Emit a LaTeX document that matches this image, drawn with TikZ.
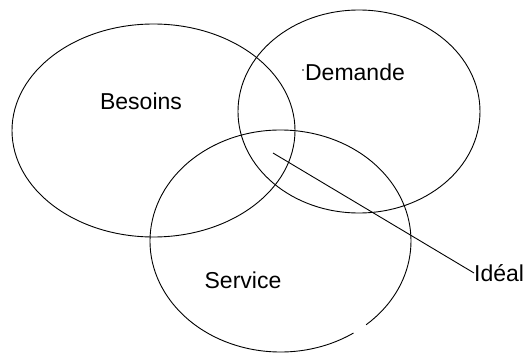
\documentclass[tikz,border=0pt]{standalone}
\usepackage{fontspec}
\setmainfont{Liberation Sans}
\usepackage{tikz}
\usetikzlibrary{positioning, calc, shapes.geometric}

\tikzset{
  zone/.style={draw, ellipse, line width=0.9pt, inner sep=0pt},
  etiquette/.style={font=\fontsize{23}{27}\selectfont, inner sep=0pt}
}

\begin{document}
\begin{tikzpicture}[x=1pt, y=-1pt]
  \useasboundingbox (0,0) rectangle (523,353);
  % Ensembles
  \node[zone, minimum width=283, minimum height=213] (besoins) at (153.5,130.5) {};
  \node[zone, minimum width=242, minimum height=203] (demande) at (359,111.5) {};
  \node[ellipse, minimum width=261, minimum height=222, inner sep=0pt] (service) at (280.5,241) {};
  \draw[line width=0.9pt] ($(service.center)+(56:130.5 and 111)$)
    arc[start angle=56, end angle=409, x radius=130.5, y radius=111];
  % Textes
  \node[etiquette] (tbesoins) at (141,101) {Besoins};
  \node[etiquette] (tdemande) at (355,72) {Demande};
  \fill (303,70) circle (0.8);
  \node[etiquette] (tservice) at (243,280) {Service};
  \node[etiquette, anchor=west] (ideal) at (474,273) {Idéal};
  \coordinate (cible) at (273,153);
  \draw[line width=0.9pt] (cible) -- (ideal.west);
\end{tikzpicture}
\end{document}
